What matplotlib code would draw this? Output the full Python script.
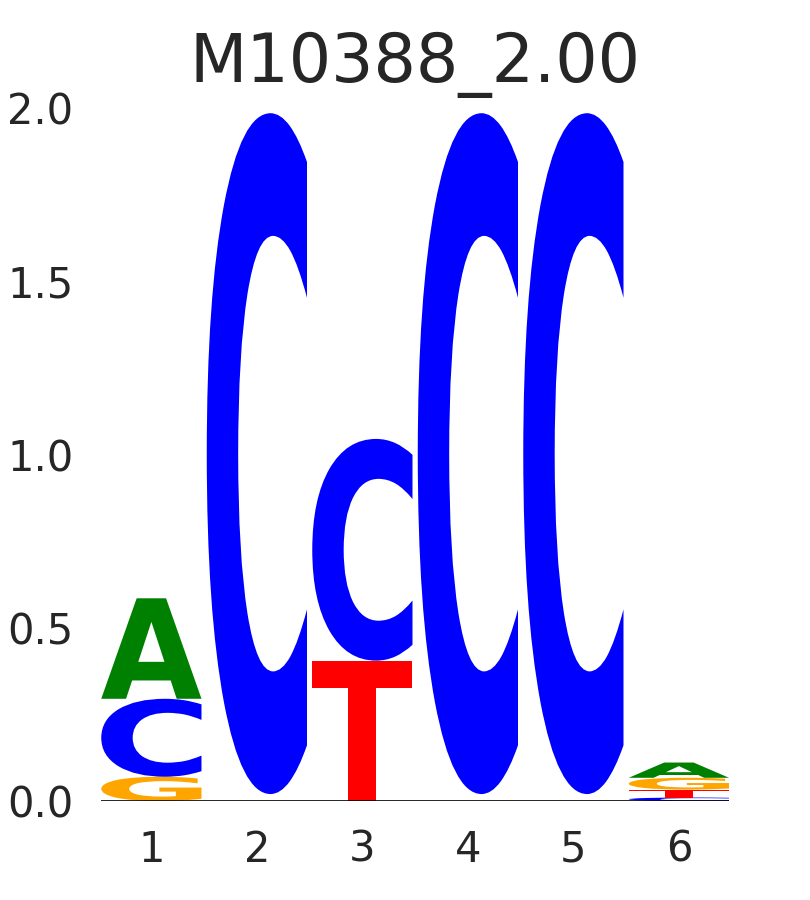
import matplotlib
matplotlib.use("Agg")
import matplotlib.pyplot as plt
from matplotlib.textpath import TextPath
from matplotlib.font_manager import FontProperties
from matplotlib.patches import PathPatch
from matplotlib.transforms import Affine2D

# Data: information content (bits) per letter per position
positions = [1, 2, 3, 4, 5, 6]
letters = ["A", "C", "G", "T"]
A_vals = [0.290, 0.007, 0.000, 0.007, 0.007, 0.044]
C_vals = [0.225, 1.965, 0.640, 1.965, 1.965, 0.010]
G_vals = [0.070, 0.006, 0.000, 0.006, 0.006, 0.034]
T_vals = [0.000, 0.007, 0.405, 0.007, 0.007, 0.023]
colors = {"A": "#008000", "C": "#0000ff", "G": "#ffa500", "T": "#ff0000"}
title = "M10388_2.00"
yticks = [0.0, 0.5, 1.0, 1.5, 2.0]

values = {"A": A_vals, "C": C_vals, "G": G_vals, "T": T_vals}
width = 0.95
min_drawn = 0.008  # letters smaller than this are too thin to show
fp = FontProperties(family="DejaVu Sans", weight="bold")

fig = plt.figure(figsize=(8.1, 9), dpi=100)
ax = fig.add_axes([0.125, 0.11, 0.775, 0.77])

def draw_glyph(ax, ch, x, floor, ceil, color):
    tp = TextPath((0, 0), ch, size=1, prop=fp)
    ext = tp.get_extents()
    h = ceil - floor
    sx = width / ext.width
    sy = h / ext.height
    tr = (Affine2D().translate(-ext.x0, -ext.y0).scale(sx, sy)
          .translate(x - width / 2, floor))
    path = tr.transform_path(tp)
    ax.add_patch(PathPatch(path, facecolor=color, edgecolor="none", lw=0))

for i, p in enumerate(positions):
    items = sorted([(values[l][i], l) for l in letters])
    floor = 0.0
    for v, l in items:
        if v <= 0:
            continue
        if v >= min_drawn:
            draw_glyph(ax, l, p, floor, floor + v, colors[l])
        floor += v

ax.axhline(0, color="black", lw=1.2, zorder=5)
ax.set_xlim(positions[0] - width / 2, positions[-1] + width / 2)
ax.set_ylim(0, 2.0)
ax.set_xticks(positions)
ax.set_xticklabels([str(p) for p in positions])
ax.set_yticks(yticks)
ax.set_yticklabels([f"{t:.1f}" for t in yticks])
for s in ax.spines.values():
    s.set_visible(False)
ax.tick_params(axis="both", length=0, labelsize=30, colors="#262626", pad=20)
ax.set_title(title, fontsize=48, color="#262626", pad=19)

fig.savefig("out.png", dpi=100)
